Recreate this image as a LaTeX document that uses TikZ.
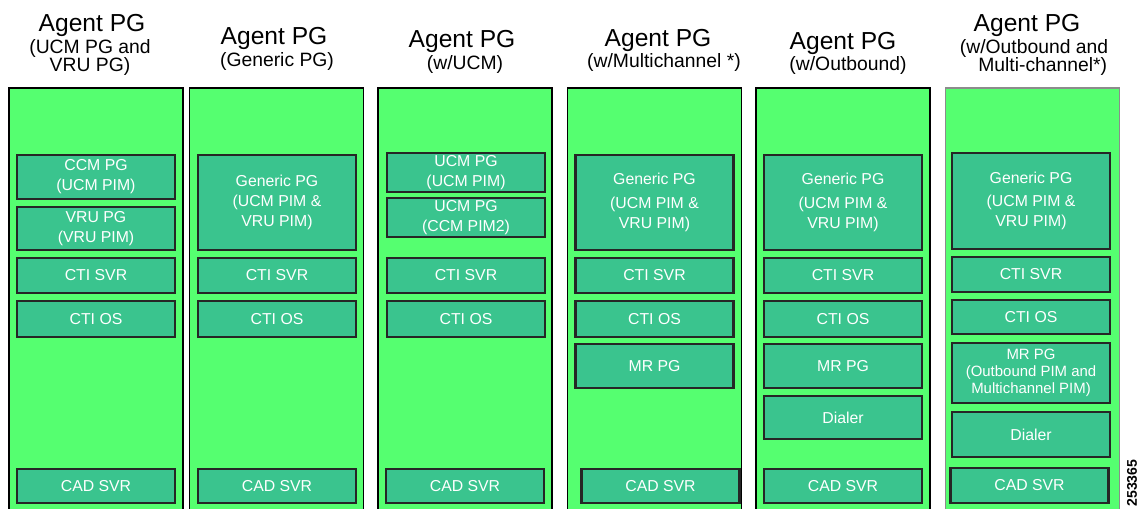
\documentclass[tikz,border=0pt]{standalone}
\usepackage{fontspec}
\setmainfont{Liberation Sans}
\definecolor{pggreen}{RGB}{85,255,112}
\definecolor{pimteal}{RGB}{58,196,142}
\tikzset{
  pgcol/.style={draw=black, line width=1pt, fill=pggreen, minimum width=3.48cm, minimum height=8.54cm, inner sep=0pt},
  pimbox/.style={draw=black!85, line width=1.3pt, fill=pimteal, text=white, align=center, minimum width=3.16cm, inner sep=0pt, font=\fontsize{9}{11.4}\selectfont},
  pgtitle/.style={anchor=base, font=\fontsize{14}{16}\selectfont},
  pgsub/.style={anchor=base, align=center, font=\fontsize{11}{10.8}\selectfont}
}
\begin{document}
\begin{tikzpicture}[x=0.02cm, y=-0.02cm]
	\useasboundingbox (0,0) rectangle (1141,509);
	\clip (0,0) rectangle (1141,509);
	
	% titles (base of a two-line subtitle is its last line)
	\node[pgtitle] (t1) at (92,31.5) {Agent PG};
	\node[pgsub] (s1) at (90,72) {(UCM PG and\\VRU PG)};
	\node[pgtitle] (t2) at (274,45) {Agent PG};
	\node[pgsub] (s2) at (277,67) {(Generic PG)};
	\node[pgtitle] (t3) at (462,48) {Agent PG};
	\node[pgsub] (s3) at (465,70) {(w/UCM)};
	\node[pgtitle] (t4) at (658,47) {Agent PG};
	\node[pgsub] (s4) at (664,68) {(w/Multichannel *)};
	\node[pgtitle] (t5) at (843,50) {Agent PG};
	\node[pgsub] (s5) at (848,71) {(w/Outbound)};
	\node[pgtitle] (t6) at (1027,32) {Agent PG};
	\node[pgsub] (s6) at (1034,72) {(w/Outbound and\\\hspace{0.9em}Multi-channel*)};
	
	% peripheral gateway columns
	\node[pgcol] (c1) at (96,301.5) {};
	\node[pgcol] (c2) at (276.5,301.5) {};
	\node[pgcol] (c3) at (465,301.5) {};
	\node[pgcol] (c4) at (654.5,301.5) {};
	\node[pgcol] (c5) at (843,301.5) {};
	\node[pgcol, draw=black!45, line width=0.8pt] (c6) at (1032.5,301.5) {};
	
	% UCM PG and VRU PG
	\node[pimbox, minimum height=0.88cm] (ccm1) at (96,177) {CCM PG\\(UCM PIM)};
	\node[pimbox, minimum height=0.86cm] (vru1) at (96,228.5) {VRU PG\\(VRU PIM)};
	\node[pimbox, minimum height=0.70cm] (svr1) at (96,275.5) {CTI SVR};
	\node[pimbox, minimum height=0.72cm] (os1) at (96,319) {CTI OS};
	\node[pimbox, minimum height=0.68cm] (cad1) at (96,486) {CAD SVR};
	
	% Generic PG
	\node[pimbox, minimum height=1.9cm] (gen2) at (277,202.5) {Generic PG\\(UCM PIM \&\\VRU PIM)};
	\node[pimbox, minimum height=0.70cm] (svr2) at (277,275.5) {CTI SVR};
	\node[pimbox, minimum height=0.72cm] (os2) at (277,319) {CTI OS};
	\node[pimbox, minimum height=0.68cm] (cad2) at (277,486) {CAD SVR};
	
	% w/UCM
	\node[pimbox, minimum height=0.78cm] (ucma3) at (466,172.5) {UCM PG\\(UCM PIM)};
	\node[pimbox, minimum height=0.78cm] (ucmb3) at (466,217.5) {UCM PG\\(CCM PIM2)};
	\node[pimbox, minimum height=0.70cm] (svr3) at (466,275.5) {CTI SVR};
	\node[pimbox, minimum height=0.72cm] (os3) at (466,319) {CTI OS};
	\node[pimbox, minimum height=0.68cm] (cad3) at (465,486) {CAD SVR};
	
	% w/Multichannel
	\node[pimbox, minimum height=1.9cm] (gen4) at (654.5,202.5) {Generic PG\\[2pt](UCM PIM \&\\VRU PIM)};
	\node[pimbox, minimum height=0.70cm] (svr4) at (654.5,275.5) {CTI SVR};
	\node[pimbox, minimum height=0.72cm] (os4) at (654.5,319) {CTI OS};
	\node[pimbox, minimum height=0.88cm] (mr4) at (654.5,366) {MR PG};
	\node[pimbox, minimum height=0.68cm] (cad4) at (660.5,486) {CAD SVR};
	
	% w/Outbound
	\node[pimbox, minimum height=1.9cm] (gen5) at (843,202.5) {Generic PG\\[2pt](UCM PIM \&\\VRU PIM)};
	\node[pimbox, minimum height=0.70cm] (svr5) at (843,275.5) {CTI SVR};
	\node[pimbox, minimum height=0.72cm] (os5) at (843,319) {CTI OS};
	\node[pimbox, minimum height=0.88cm] (mr5) at (843,366) {MR PG};
	\node[pimbox, minimum height=0.86cm] (dial5) at (843,417.5) {Dialer};
	\node[pimbox, minimum height=0.68cm] (cad5) at (843,486) {CAD SVR};
	
	% w/Outbound and Multi-channel
	\node[pimbox, minimum height=1.92cm] (gen6) at (1031,201) {Generic PG\\[2pt](UCM PIM \&\\VRU PIM)};
	\node[pimbox, minimum height=0.70cm] (svr6) at (1031,274.5) {CTI SVR};
	\node[pimbox, minimum height=0.68cm] (os6) at (1031,317) {CTI OS};
	\node[pimbox, minimum height=1.2cm, font=\fontsize{8.5}{9.7}\selectfont] (mr6) at (1031,373) {MR PG\\(Outbound PIM and\\Multichannel PIM)};
	\node[pimbox, minimum height=0.9cm] (dial6) at (1031,434.5) {Dialer};
	\node[pimbox, minimum height=0.70cm] (cad6) at (1029.5,485.5) {CAD SVR};
	
	% figure number
	\node[rotate=90, font=\fontsize{8}{8}\selectfont\bfseries] (fig) at (1132,483) {253365};
\end{tikzpicture}
\end{document}
